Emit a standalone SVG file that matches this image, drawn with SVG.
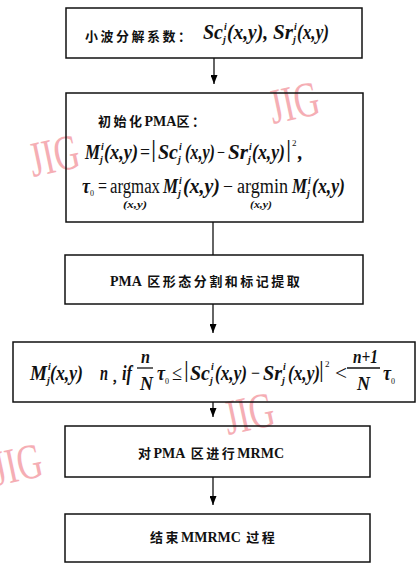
<svg xmlns="http://www.w3.org/2000/svg" width="416" height="563" viewBox="0 0 416 563">
<defs>
<marker id="ah" markerWidth="7" markerHeight="9" refX="3.5" refY="9" orient="0" markerUnits="userSpaceOnUse">
<path d="M0,0 L7,0 L3.5,9 z" fill="#000"/>
</marker>
<style>
.box{fill:none;stroke:#111;stroke-width:1.5}
.wm{font-family:"Liberation Serif",serif;font-size:50px;fill:#f4a0a8;opacity:0.85}
.cn{font-family:"Noto Sans CJK SC",sans-serif;font-weight:bold;font-size:13px;fill:#111;letter-spacing:2.5px}
.lt{font-family:"Liberation Serif",serif;font-weight:bold;font-size:14px;letter-spacing:0}
.f{font-family:"Liberation Serif",serif;font-style:italic;font-weight:bold;font-size:20px;fill:#111}
.f4{font-size:21px}
.fr{font-size:18px}
.sp{font-size:10px}
.u{font-style:normal;font-weight:normal}
.bar{font-family:"Liberation Serif",serif;font-size:26px;fill:#111}
.conn{stroke:#111;stroke-width:1.3;fill:none}
</style>
</defs>
<g id="watermarks">
<text class="wm" x="33" y="177" textLength="50" lengthAdjust="spacingAndGlyphs" transform="rotate(-12 33 177)">JIG</text>
<text class="wm" x="273" y="124" textLength="50" lengthAdjust="spacingAndGlyphs" transform="rotate(-12 273 124)">JIG</text>
<text class="wm" x="228" y="435" textLength="50" lengthAdjust="spacingAndGlyphs" transform="rotate(-12 228 435)">JIG</text>
<text class="wm" x="-4" y="486" textLength="50" lengthAdjust="spacingAndGlyphs" transform="rotate(-12 -4 486)">JIG</text>
</g>
<g id="connectors">
<line class="conn" x1="214" y1="58" x2="214" y2="84" marker-end="url(#ah)"/>
<line class="conn" x1="213" y1="222" x2="213" y2="255"/>
<line class="conn" x1="213" y1="304" x2="213" y2="333" marker-end="url(#ah)"/>
<line class="conn" x1="213" y1="402" x2="213" y2="417" marker-end="url(#ah)"/>
<line class="conn" x1="213" y1="477" x2="213" y2="505" marker-end="url(#ah)"/>
</g>
<g id="n1">
<rect class="box" x="66" y="8" width="296" height="50"/>
<text class="cn" x="85" y="41">小波分解系数：</text>
<g class="f" style="font-size:21px">
<text x="203" y="39" textLength="20" lengthAdjust="spacingAndGlyphs">Sc</text>
<text class="sp" x="224" y="30">i</text>
<text class="sp" x="223" y="43">j</text>
<text x="227" y="39" textLength="41" lengthAdjust="spacingAndGlyphs">(x,y),</text>
<text x="273" y="39" textLength="20" lengthAdjust="spacingAndGlyphs">Sr</text>
<text class="sp" x="294" y="30">i</text>
<text class="sp" x="293" y="43">j</text>
<text x="297" y="39" textLength="32" lengthAdjust="spacingAndGlyphs">(x,y)</text>
</g>
</g>
<g id="n2">
<rect class="box" x="66" y="93" width="297" height="129"/>
<text class="cn" x="98" y="126">初始化<tspan class="lt">PMA</tspan>区：</text>
<g class="f">
<text x="85" y="159" textLength="15" lengthAdjust="spacingAndGlyphs">M</text>
<text class="sp" x="101" y="150">i</text>
<text class="sp" x="100" y="163">j</text>
<text x="104" y="159" textLength="34" lengthAdjust="spacingAndGlyphs">(x,y)</text>
<text class="u" x="140" y="159" textLength="10" lengthAdjust="spacingAndGlyphs">=</text>
<text x="158" y="159" textLength="20" lengthAdjust="spacingAndGlyphs">Sc</text>
<text class="sp" x="179" y="150">i</text>
<text class="sp" x="178" y="163">j</text>
<text x="185" y="159" textLength="30" lengthAdjust="spacingAndGlyphs">(x,y)</text>
<text class="u" x="217" y="159" textLength="8" lengthAdjust="spacingAndGlyphs">−</text>
<text x="228" y="159" textLength="20" lengthAdjust="spacingAndGlyphs">Sr</text>
<text class="sp" x="249" y="150">i</text>
<text class="sp" x="248" y="163">j</text>
<text x="252" y="159" textLength="33" lengthAdjust="spacingAndGlyphs">(x,y)</text>
<text class="u" x="292" y="146" style="font-size:9px">2</text>
<text x="298" y="159">,</text>
<text x="82" y="193" textLength="8" lengthAdjust="spacingAndGlyphs">τ</text>
<text class="u" x="90" y="196" style="font-size:8px">0</text>
<text class="u" x="98" y="193" textLength="9" lengthAdjust="spacingAndGlyphs">=</text>
<text class="u" x="110" y="193" textLength="50" lengthAdjust="spacingAndGlyphs">argmax</text>
<text x="163" y="193" textLength="15" lengthAdjust="spacingAndGlyphs">M</text>
<text class="sp" x="179" y="184">i</text>
<text class="sp" x="178" y="197">j</text>
<text x="183" y="193" textLength="37" lengthAdjust="spacingAndGlyphs">(x,y)</text>
<text class="u" x="223" y="193" textLength="10" lengthAdjust="spacingAndGlyphs">−</text>
<text class="u" x="237" y="193" textLength="51" lengthAdjust="spacingAndGlyphs">argmin</text>
<text x="292" y="193" textLength="15" lengthAdjust="spacingAndGlyphs">M</text>
<text class="sp" x="308" y="184">i</text>
<text class="sp" x="307" y="197">j</text>
<text x="312" y="193" textLength="33" lengthAdjust="spacingAndGlyphs">(x,y)</text>
<text x="123" y="208" style="font-size:11px" textLength="24" lengthAdjust="spacingAndGlyphs">(x,y)</text>
<text x="250" y="208" style="font-size:11px" textLength="22" lengthAdjust="spacingAndGlyphs">(x,y)</text>
</g>
<text class="bar" x="151" y="157">|</text>
<text class="bar" x="286" y="157">|</text>
</g>
<g id="n3">
<rect class="box" x="65" y="255" width="298" height="49"/>
<text class="cn" x="110" y="286"><tspan class="lt">PMA</tspan> 区形态分割和标记提取</text>
</g>
<g id="n4">
<rect class="box" x="13" y="342" width="402" height="60"/>
<g class="f f4">
<text x="30" y="380" textLength="17" lengthAdjust="spacingAndGlyphs">M</text>
<text class="sp" x="48" y="370">i</text>
<text class="sp" x="47" y="384">j</text>
<text x="50" y="380" textLength="33" lengthAdjust="spacingAndGlyphs">(x,y)</text>
<text x="100" y="380" textLength="8" lengthAdjust="spacingAndGlyphs">n</text>
<text x="122" y="380" textLength="10" lengthAdjust="spacingAndGlyphs">if</text>
<text class="fr" x="141" y="363" textLength="9" lengthAdjust="spacingAndGlyphs">n</text>
<text class="fr" x="140" y="390" textLength="13" lengthAdjust="spacingAndGlyphs">N</text>
<text x="157" y="380" textLength="8" lengthAdjust="spacingAndGlyphs">τ</text>
<text class="u" x="165" y="384" style="font-size:8px">0</text>
<text class="u" x="172" y="380" textLength="10" lengthAdjust="spacingAndGlyphs">≤</text>
<text x="190" y="380" textLength="20" lengthAdjust="spacingAndGlyphs">Sc</text>
<text class="sp" x="211" y="370">i</text>
<text class="sp" x="210" y="384">j</text>
<text x="215" y="380" textLength="32" lengthAdjust="spacingAndGlyphs">(x,y)</text>
<text class="u" x="251" y="380" textLength="9" lengthAdjust="spacingAndGlyphs">−</text>
<text x="263" y="380" textLength="19" lengthAdjust="spacingAndGlyphs">Sr</text>
<text class="sp" x="283" y="370">i</text>
<text class="sp" x="282" y="384">j</text>
<text x="288" y="380" textLength="32" lengthAdjust="spacingAndGlyphs">(x,y)</text>
<text class="u" x="325" y="367" style="font-size:9px">2</text>
<text class="u" x="335" y="380" textLength="12" lengthAdjust="spacingAndGlyphs">&lt;</text>
<text class="fr" x="353" y="363" textLength="25" lengthAdjust="spacingAndGlyphs">n+1</text>
<text class="fr" x="357" y="390" textLength="13" lengthAdjust="spacingAndGlyphs">N</text>
<text x="383" y="380" textLength="8" lengthAdjust="spacingAndGlyphs">τ</text>
<text class="u" x="391" y="384" style="font-size:8px">0</text>
</g>
<text class="cn" x="111" y="382" letter-spacing="0">，</text>
<line class="conn" x1="137" y1="368" x2="153" y2="368"/>
<line class="conn" x1="347" y1="368" x2="380" y2="368"/>
<text class="bar" x="184" y="377" style="font-size:24px">|</text>
<text class="bar" x="319" y="377" style="font-size:24px">|</text>
</g>
<g id="n5">
<rect class="box" x="65" y="426" width="305" height="51"/>
<text class="cn" x="138" y="458">对<tspan class="lt">PMA</tspan> 区进行<tspan class="lt">MRMC</tspan></text>
</g>
<g id="n6">
<rect class="box" x="65" y="514" width="305" height="48"/>
<text class="cn" x="150" y="542">结束<tspan class="lt">MMRMC</tspan> 过程</text>
</g>
</svg>
